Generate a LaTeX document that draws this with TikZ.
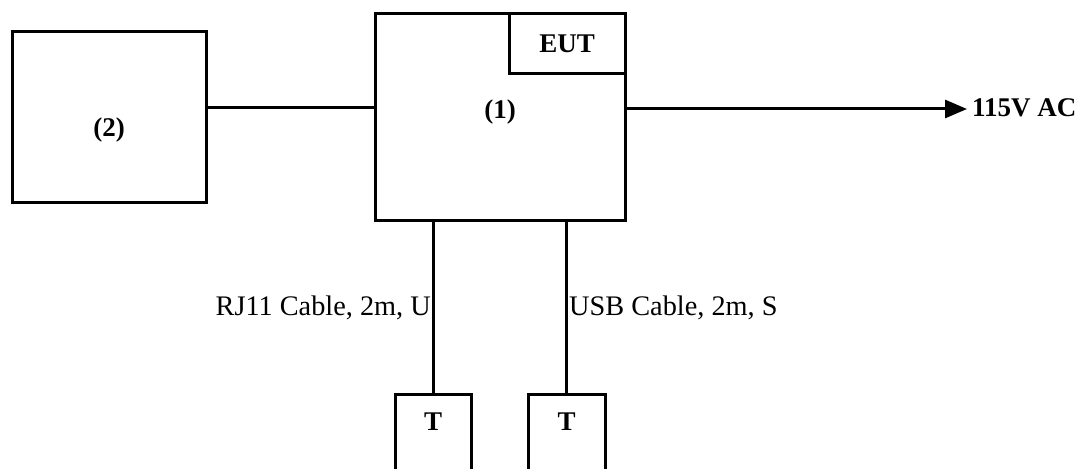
\documentclass[tikz,border=0pt]{standalone}
\usepackage{fontspec}
\setmainfont{Liberation Serif}
\usetikzlibrary{arrows.meta}
\begin{document}
\begin{tikzpicture}[x=1pt,y=-1pt,
  box/.style={draw,line width=3pt,inner sep=0pt,rectangle},
  wire/.style={line width=3pt},
  lbl/.style={inner sep=0pt,font=\fontsize{28.3}{31}\selectfont},
  blbl/.style={inner sep=0pt,font=\fontsize{27}{30}\selectfont\bfseries}]
\useasboundingbox (0,0) rectangle (1083,468);
\clip (0,0) rectangle (1083,468);
% box (2)
\node[box,minimum width=194pt,minimum height=170pt] (b2) at (109,117) {};
\node[blbl] (b2t) at (109,130) {(2)};
% box (1)
\node[box,minimum width=250pt,minimum height=206pt] (b1) at (500,117) {};
\node[blbl] (b1t) at (500,112) {(1)};
\node[box,minimum width=116pt,minimum height=60pt,anchor=north east] (eut) at (b1.north east) {};
\node[blbl] (eutt) at (eut.center) {EUT};
% connection (2)-(1)
\draw[wire] (b2.east |- 0,108) -- (b1.west |- 0,108);
% power
\coordinate (ac) at (967,109);
\draw[wire,-{Triangle[length=22pt,width=18pt]}] (b1.east |- ac) -- (ac);
\node[blbl,anchor=west] (act) at (972,108) {115V AC};
% terminals
\node[box,minimum width=76pt,minimum height=100pt,anchor=north] (t1) at (433,393) {};
\node[box,minimum width=77pt,minimum height=100pt,anchor=north] (t2) at (566.5,393) {};
\node[blbl] (t1t) at (433,422) {T};
\node[blbl] (t2t) at (566.5,422) {T};
\draw[wire] (b1.south -| t1.north) -- (t1.north);
\draw[wire] (b1.south -| t2.north) -- (t2.north);
\node[lbl,anchor=east] (l1) at (431,308) {RJ11 Cable, 2m, U};
\node[lbl,anchor=west] (l2) at (569,308) {USB Cable, 2m, S};
\end{tikzpicture}
\end{document}
